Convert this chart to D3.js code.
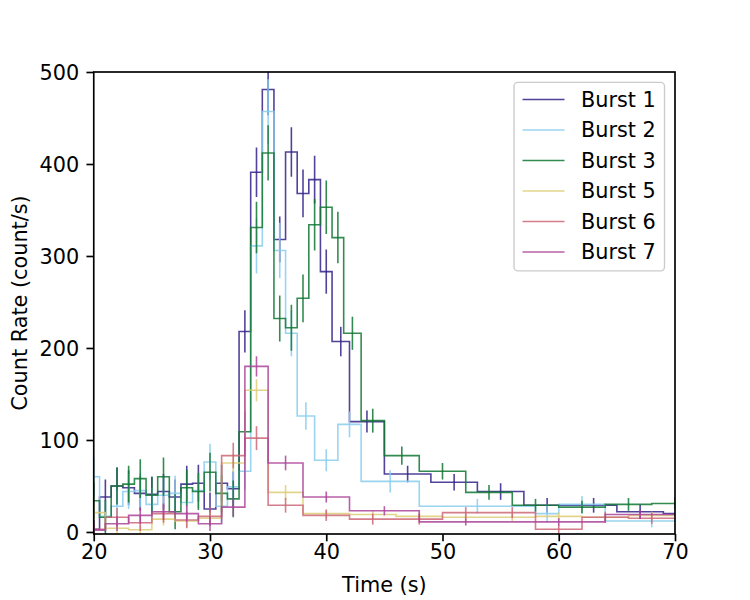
<!DOCTYPE html>
<html><head><meta charset="utf-8">
<script src="https://cdn.jsdelivr.net/npm/d3@7"></script>
<style>body{margin:0;background:#fff} text{font-family:"DejaVu Sans",sans-serif}</style>
</head><body><svg id="c" width="750" height="600"></svg>
<script>
const burstNames = ["Burst 1","Burst 2","Burst 3","Burst 5","Burst 6","Burst 7"];
const burstColors = ["#332288","#88CCEE","#117733","#DDCC77","#CC6677","#AA4499"];

const b1Edges = [19.5,20.5,21.5,22.5,23.5,24.5,25.5,26.5,27.5,28.5,29.5,30.5,31.5,32.5,33.5,34.5,35.5,36.5,37.5,38.5,39.5,40.5,42,45,49,53,57,61,65,69,73];
const b1Rate  = [3,38,50,48,42,41,44,38,52,53,25,53,47,218,391,481,318,413,368,383,283,207,120,63,54,44,29,29,22,20];
const b1Err   = [10,19,20,19,19,19,19,19,20,20,18,20,19,23,27,28,25,27,26,26,24,16,12,9,9,9,8,8,8,8];

const b2Edges = [19.5,20.5,21.5,22.5,23.5,24.5,25.5,26.5,27.5,28.5,29.5,30.5,31.5,32.5,33.5,34.5,35.5,36.5,37.5,39,41,43,48,58,60,64,72];
const b2Rate  = [60,17,28,44,45,30,40,42,32,45,76,28,49,66,311,457,306,216,126,78,117,55,28,20,30,12];
const b2Err   = [20,17,18,19,19,18,19,19,18,19,20,18,19,20,30,35,30,25,15,12,14,12,8,10,9,7];

const b3Edges = [19.5,20.5,21.5,22.5,23.5,24.5,25.5,26.5,27.5,28.5,29.5,30.5,31.5,32.5,33.5,34.5,35.5,36.5,37.5,38.5,39.5,40.5,41.5,43,45,48,52,56,60,64,68,72];
const b3Rate  = [34,16,50,52,58,40,60,22,48,44,65,42,36,109,331,412,232,222,254,334,353,320,216,121,83,66,43,29,27,30,31];
const b3Err   = [20,19,20,20,21,20,21,19,20,20,21,20,20,22,28,30,25,25,26,28,29,28,18,13,10,9,8,7,7,7,7];

const b5Edges = [19,21,23,25,27,29,31,33,35,38,42,46,50,54,58,62,66,70];
const b5Rate  = [21,4,2.4,14,12,15,75,154,43,20,19,17,16,16,17,16,18];
const b5Err   = [8,6,5,7,7,7,10,12,8,5,4,4,4,4,4,4,4];

const b6Edges = [19,21,23,25,27,29,31,33,35,38,42,46,50,54,58,62,66,70];
const b6Rate  = [3,16,10,20,13,17,83,102,29,18,14,14,21,21,3,16,15];
const b6Err   = [8,10,9,10,9,10,14,13,8,6,6,6,6,6,5,6,6];

const b7Edges = [19,21,23,25,27,29,31,33,35,38,42,48,56,64,70];
const b7Rate  = [2,9,18,22,20,9,27,180,75,38,23,11,11,19];
const b7Err   = [7,8,9,9,9,8,10,11,8,6,5,4,4,5];

const xTicks = [20,30,40,50,60,70];
const yTicks = [0,100,200,300,400,500];
const xLabel = "Time (s)";
const yLabel = "Count Rate (count/s)";

const series = [
  {edges:b1Edges, rate:b1Rate, err:b1Err},
  {edges:b2Edges, rate:b2Rate, err:b2Err},
  {edges:b3Edges, rate:b3Rate, err:b3Err},
  {edges:b5Edges, rate:b5Rate, err:b5Err},
  {edges:b6Edges, rate:b6Rate, err:b6Err},
  {edges:b7Edges, rate:b7Rate, err:b7Err}
];

const W=750,H=600, L=93.75, R=675, T=72, B=534;
const FS = 20.8;
const svg = d3.select("#c");
const x = d3.scaleLinear().domain([20,70]).range([L,R]);
const y = d3.scaleLinear().domain([-2.2,500]).range([B,T]);

svg.append("defs").append("clipPath").attr("id","pa")
  .append("rect").attr("x",L).attr("y",T).attr("width",R-L).attr("height",B-T);

const g = svg.append("g").attr("clip-path","url(#pa)");
series.forEach((s,i)=>{
  const col = burstColors[i];
  let d = "";
  s.rate.forEach((v,j)=>{
    const x0 = x(s.edges[j]), x1 = x(s.edges[j+1]), yy = y(v);
    d += (j===0 ? `M${x0},${yy}` : `V${yy}`) + `H${x1}`;
  });
  g.append("path").attr("d",d).attr("fill","none").attr("stroke",col)
    .attr("stroke-width",1.6).attr("stroke-opacity",0.85);
  const eb = g.append("g").attr("stroke",col).attr("stroke-width",1.6).attr("stroke-opacity",0.85);
  s.rate.forEach((v,j)=>{
    const c = (s.edges[j]+s.edges[j+1])/2;
    eb.append("line").attr("x1",x(c)).attr("x2",x(c))
      .attr("y1",y(v - s.err[j])).attr("y2",y(v + s.err[j]));
  });
});

// spines
svg.append("rect").attr("x",L).attr("y",T).attr("width",R-L).attr("height",B-T)
  .attr("fill","none").attr("stroke","#000").attr("stroke-width",1.67);

// axes
const xa = svg.append("g").attr("transform",`translate(0,${B})`)
  .call(d3.axisBottom(x).tickValues(xTicks).tickSize(7.3).tickPadding(7.3).tickFormat(d3.format("d")));
const ya = svg.append("g").attr("transform",`translate(${L},0)`)
  .call(d3.axisLeft(y).tickValues(yTicks).tickSize(7.3).tickPadding(7.3).tickFormat(d3.format("d")));
[xa,ya].forEach(a=>{
  a.select(".domain").remove();
  a.selectAll(".tick line").attr("stroke","#000").attr("stroke-width",1.67);
  a.selectAll(".tick text").attr("font-size",FS).attr("fill","#000").attr("font-family","DejaVu Sans");
});
xa.selectAll(".tick text").attr("dy",null).attr("y",null).attr("transform","translate(0,24.5)");
ya.selectAll(".tick text").attr("dy","0.36em");

svg.append("text").attr("x",(L+R)/2).attr("y",592).attr("text-anchor","middle")
  .attr("font-size",FS).text(xLabel);
svg.append("text").attr("transform",`translate(27,${(T+B)/2}) rotate(-90)`).attr("text-anchor","middle")
  .attr("font-size",FS).text(yLabel);

// legend
const lg = svg.append("g");
lg.append("rect").attr("x",514).attr("y",82.4).attr("width",150.5).attr("height",188.5)
  .attr("rx",4).attr("fill","#fff").attr("fill-opacity",0.8).attr("stroke","#ccc").attr("stroke-width",1.4);
burstNames.forEach((n,i)=>{
  const yy = 99.5 + i*30.5;
  lg.append("line").attr("x1",522.5).attr("x2",564.5).attr("y1",yy).attr("y2",yy)
    .attr("stroke",burstColors[i]).attr("stroke-width",1.6).attr("stroke-opacity",0.85);
  lg.append("text").attr("x",581).attr("y",yy).attr("dy","0.36em").attr("font-size",FS).text(n);
});
</script></body></html>
